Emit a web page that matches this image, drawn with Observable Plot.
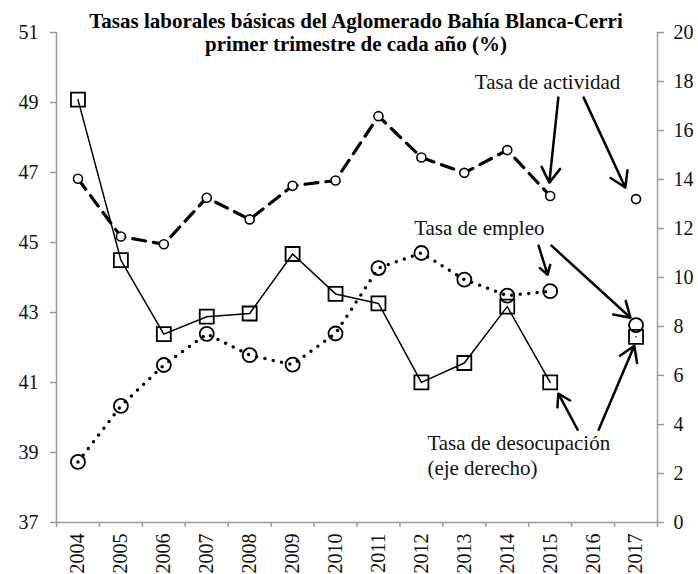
<!DOCTYPE html>
<html><head><meta charset="utf-8">
<script src="https://cdn.jsdelivr.net/npm/d3@7"></script>
<script src="https://cdn.jsdelivr.net/npm/@observablehq/plot@0.6"></script>
<style>
body{margin:0;background:#fff;}
#wrap{position:relative;width:698px;height:574px;font-family:'Liberation Serif','Times New Roman',serif;}
#title{position:absolute;left:0;top:10px;width:712px;text-align:center;font-weight:bold;font-size:21px;line-height:23px;color:#000;}
#chart{position:absolute;left:0;top:0;}
svg text{font-family:'Liberation Serif','Times New Roman',serif;}
</style></head><body>
<div id="wrap"><div id="chart"></div><div id="title">Tasas laborales básicas del Aglomerado Bahía Blanca-Cerri<br>primer trimestre de cada año (%)</div></div>
<script>
const years = [2004,2005,2006,2007,2008,2009,2010,2011,2012,2013,2014,2015,2016,2017];
const actividad = [46.82,45.17,44.95,46.28,45.66,46.62,46.77,48.61,47.43,46.99,47.64,46.33,null,46.24];
const empleo = [38.73,40.33,41.50,42.39,41.78,41.51,42.40,44.27,44.70,43.94,43.48,43.61,null,42.64];
const desocupacion = [17.26,10.71,7.69,8.40,8.53,10.96,9.33,8.94,5.72,6.51,8.81,5.72,null,7.58];
const leftTicks = [37,39,41,43,45,47,49,51];
const rightTicks = [0,2,4,6,8,10,12,14,16,18,20];

// annotation labels and arrows (data coordinates: year, left-axis value)
const centeredLabels = [
  {text:"Tasa de actividad", x:2014.94, y:49.57},
  {text:"Tasa de empleo", x:2013.35, y:45.41}
];
const leftLabels = [
  {text:"Tasa de desocupación", x:2012.14, y:39.25},
  {text:"(eje derecho)", x:2012.14, y:38.54}
];
const arrows = [
  {x1:2015.19,y1:49.14,x2:2014.98,y2:46.71},
  {x1:2015.78,y1:49.14,x2:2016.75,y2:46.57},
  {x1:2014.73,y1:44.91,x2:2014.94,y2:44.08},
  {x1:2015.03,y1:44.91,x2:2016.87,y2:42.85},
  {x1:2015.64,y1:39.65,x2:2015.19,y2:40.68},
  {x1:2016.13,y1:39.65,x2:2016.96,y2:42.05}
];

// right axis (0-20) mapped onto left axis (37-51)
const toLeft = v => 37 + v * 14 / 20;
const fromLeft = d => Math.round((d - 37) * 20 / 14);

const rows = years.map((yr, i) => ({
  year: yr,
  act: actividad[i] == null ? NaN : actividad[i],
  emp: empleo[i] == null ? NaN : empleo[i],
  des: desocupacion[i] == null ? NaN : toLeft(desocupacion[i])
}));
const valid = k => rows.filter(r => !isNaN(r[k]));
const edges = years.map(y => y - 0.5).concat([years[years.length-1] + 0.5]);
const font = "'Liberation Serif','Times New Roman',serif";
const grey = "#9a9a9a";

const chart = Plot.plot({
  width: 698,
  height: 574,
  marginLeft: 56,
  marginRight: 41,
  marginTop: 32,
  marginBottom: 52,
  style: {fontFamily: font, background: "white", color: "#111"},
  x: {type: "linear", domain: [2003.5, 2017.5]},
  y: {domain: [37, 51]},
  marks: [
    Plot.ruleY([37], {stroke: grey, strokeWidth: 1.5}),
    Plot.ruleX([2003.5, 2017.5], {y1: 37, y2: 51, stroke: grey, strokeWidth: 1.5}),
    Plot.axisX(edges, {tickSize: 5, tickFormat: () => "", stroke: grey, strokeWidth: 1.5}),
    Plot.axisX(years, {tickSize: 0, tickPadding: 11, tickRotate: -90, tickFormat: d => String(d), fontSize: 20, fontFamily: font, fill: "#111", label: null}),
    Plot.axisY(leftTicks, {anchor: "left", tickSize: 6, tickPadding: 12, stroke: grey, strokeWidth: 1.5, fill: "#111", fontSize: 20, fontFamily: font, tickFormat: d => String(d), label: null}),
    Plot.axisY(rightTicks.map(toLeft), {anchor: "right", tickSize: 6, tickPadding: 10, stroke: grey, strokeWidth: 1.5, fill: "#111", fontSize: 20, fontFamily: font, tickFormat: fromLeft, label: null}),
    // lines
    Plot.line(rows, {x: "year", y: "des", stroke: "#000", strokeWidth: 1.5}),
    Plot.line(rows, {x: "year", y: "act", stroke: "#000", strokeWidth: 3.2, strokeDasharray: "13,8"}),
    Plot.line(rows, {x: "year", y: "emp", stroke: "#000", strokeWidth: 3.5, strokeDasharray: "0,8.5", strokeLinecap: "round"}),
    // markers
    Plot.dot(valid("des"), {x: "year", y: "des", symbol: "square", r: 7.9, stroke: "#000", strokeWidth: 1.8, fill: "none"}),
    Plot.dot(valid("emp"), {x: "year", y: "emp", r: 7, stroke: "#000", strokeWidth: 1.8, fill: "none"}),
    Plot.dot(valid("act"), {x: "year", y: "act", r: 4.5, stroke: "#000", strokeWidth: 1.6, fill: "white"}),
    // annotations
    Plot.arrow(arrows, {x1: "x1", y1: "y1", x2: "x2", y2: "y2", stroke: "#000", strokeWidth: 2.5, headLength: 10.5, headAngle: 64}),
    Plot.text(centeredLabels, {x: "x", y: "y", text: "text", textAnchor: "middle", fontSize: 21, fontFamily: font, fill: "#111"}),
    Plot.text(leftLabels, {x: "x", y: "y", text: "text", textAnchor: "start", fontSize: 21, fontFamily: font, fill: "#111"})
  ]
});
document.getElementById("chart").appendChild(chart);
</script>
</body></html>
